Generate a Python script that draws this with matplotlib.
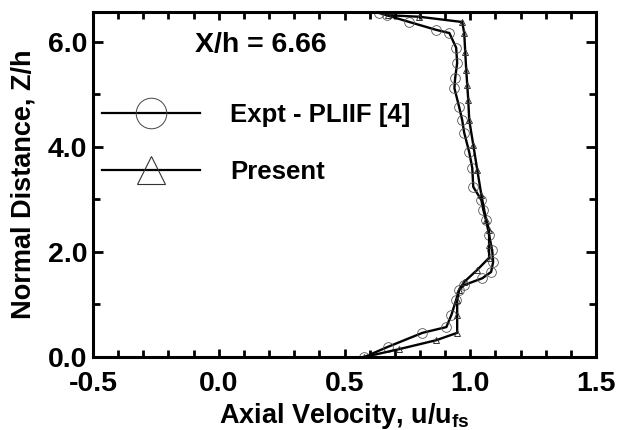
import numpy as np
import matplotlib
matplotlib.use('Agg')
import matplotlib.pyplot as plt
from matplotlib.lines import Line2D
from matplotlib.ticker import MultipleLocator

plt.rcParams['font.family'] = ['Liberation Sans', 'DejaVu Sans']
plt.rcParams['font.weight'] = 'bold'
plt.rcParams['mathtext.fontset'] = 'custom'
plt.rcParams['mathtext.bf'] = 'Liberation Sans:bold'

# measured profile (PLIIF) at X/h = 6.66
u_expt = [0.579, 0.671, 0.810, 0.905, 0.925, 0.944, 0.956, 0.976, 1.048, 1.083,
          1.091, 1.087, 1.075, 1.063, 1.052, 1.044, 1.012, 1.008, 0.996, 0.976,
          0.968, 0.956, 0.937, 0.940, 0.948, 0.944, 0.917, 0.865, 0.758, 0.667, 0.639]
z_expt = [0.00, 0.19, 0.46, 0.57, 0.80, 1.09, 1.28, 1.37, 1.50, 1.62,
          1.81, 2.04, 2.32, 2.61, 2.80, 2.99, 3.24, 3.60, 3.90, 4.27,
          4.51, 4.76, 5.12, 5.31, 5.60, 5.89, 6.17, 6.23, 6.38, 6.51, 6.55]

# computed profile
u_pres = [0.579, 0.718, 0.865, 0.948, 0.948, 0.948, 0.956, 0.976, 1.028, 1.075,
          1.075, 1.075, 1.063, 1.044, 1.028, 1.012, 0.996, 0.992, 0.988, 0.984,
          0.980, 0.976, 0.968, 0.798, 0.671]
z_pres = [0.00, 0.15, 0.32, 0.46, 0.80, 1.09, 1.28, 1.43, 1.66, 1.89,
          2.13, 2.42, 2.61, 3.09, 3.56, 4.04, 4.51, 4.90, 5.18, 5.47,
          5.81, 6.17, 6.38, 6.48, 6.51]

fig = plt.figure(figsize=(6.25, 4.3), dpi=100)
ax = fig.add_axes([0.1488, 0.1698, 0.8048, 0.8022])

ax.plot(u_expt, z_expt, color='black', lw=1.7, marker='o', ms=7,
        mfc='none', mec='#555555', mew=0.6)
ax.plot(u_pres, z_pres, color='black', lw=1.7, marker='^', ms=5,
        mfc='none', mec='#333333', mew=0.7)

ax.set_xlim(-0.5, 1.5)
ax.set_ylim(0, 6.57)
ax.xaxis.set_minor_locator(MultipleLocator(0.1))
ax.yaxis.set_minor_locator(MultipleLocator(1.0))
ax.set_xticks(np.arange(-0.5, 1.51, 0.5))
ax.set_xticklabels(['-0.5', '0.0', '0.5', '1.0', '1.5'])
ax.set_yticks([0, 2, 4, 6])
ax.set_yticklabels(['0.0', '2.0', '4.0', '6.0'])

ax.tick_params(which='both', direction='in', top=True, right=True, width=2.0,
               labelsize=20.5)
ax.tick_params(which='major', length=7)
ax.tick_params(which='minor', length=5)
ax.tick_params(axis='x', which='major', length=6, pad=10)
ax.tick_params(axis='y', pad=4)
for s in ax.spines.values():
    s.set_linewidth(2.2)

ax.set_xlabel('Axial Velocity, u/u$_{\\mathbf{fs}}$', fontsize=19.5,
              fontweight='bold', labelpad=3)
ax.set_ylabel('Normal Distance, Z/h', fontsize=19.5, fontweight='bold', labelpad=8)

ax.text(0.203, 0.904, 'X/h = 6.66', transform=ax.transAxes, fontsize=20.5,
        fontweight='bold', va='center', ha='left')

handles = [
    Line2D([], [], color='black', lw=1.6, marker='o', ms=22, mfc='none',
           mec='#444444', mew=0.7),
    Line2D([], [], color='black', lw=1.6, marker='^', ms=20, mfc='none',
           mec='#333333', mew=0.8),
]
ax.legend(handles, ['Expt - PLIIF [4]', 'Present'], loc='upper left',
          bbox_to_anchor=(0.018, 0.736), frameon=False, borderpad=0,
          borderaxespad=0, handlelength=3.8, handletextpad=1.17,
          labelspacing=1.29, prop={'size': 18.5, 'weight': 'bold'})

fig.savefig('out.png', dpi=100)
